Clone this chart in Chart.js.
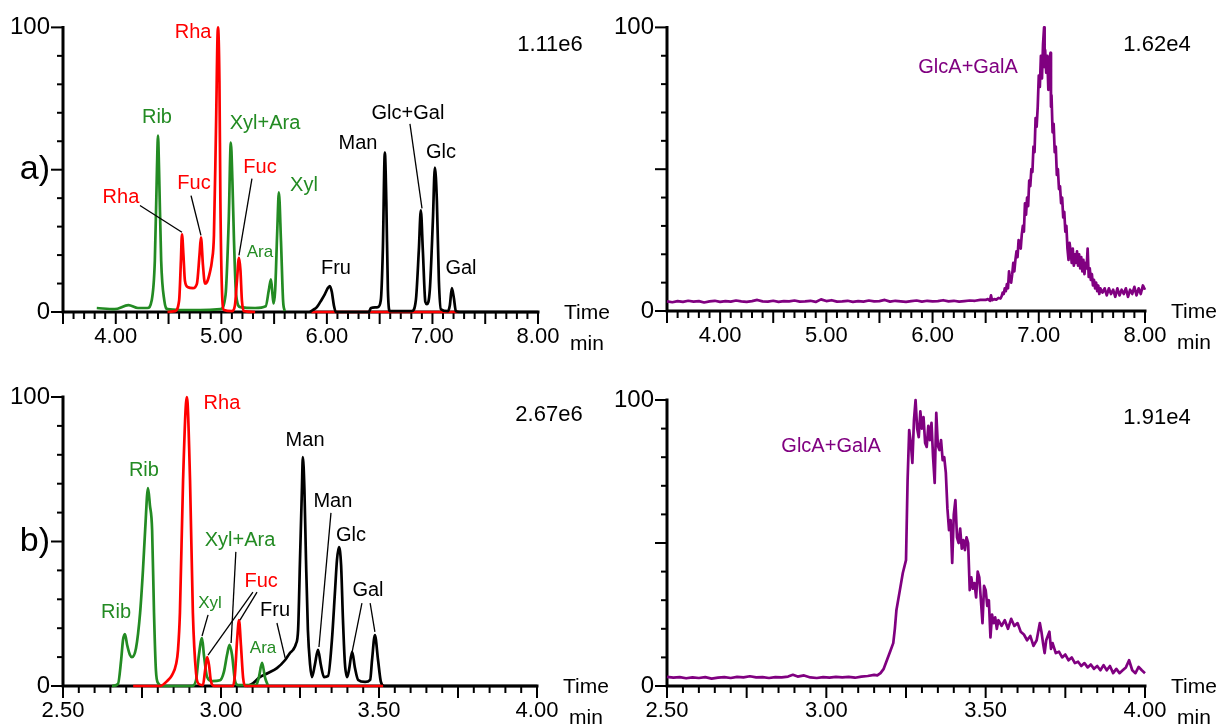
<!DOCTYPE html>
<html>
<head>
<meta charset="utf-8">
<title>Monosaccharide chromatograms</title>
<script src="https://cdn.jsdelivr.net/npm/chart.js@4.4.0/dist/chart.umd.min.js"></script>
<style>
  html, body { margin: 0; padding: 0; background: #fff; }
  #wrap { position: relative; width: 1220px; height: 724px; overflow: hidden; }
  canvas { position: absolute; }
</style>
</head>
<body>
<div id="wrap">
  <canvas id="aLeft" width="620" height="362" style="left:0;top:0"></canvas>
  <canvas id="aRight" width="620" height="362" style="left:600px;top:0"></canvas>
  <canvas id="bLeft" width="620" height="362" style="left:0;top:362px"></canvas>
  <canvas id="bRight" width="620" height="362" style="left:600px;top:362px"></canvas>
</div>
<script>
// ---- data: [time (min), relative intensity (%)] ----

// a) neutral sugars
const aGreen = [[3.82,1.4],[3.99,1.0],[4.12,2.4],[4.21,1.4],[4.30,1.4],[4.34,4],[4.37,18],[4.39,50],[4.40,62],[4.41,50],[4.43,18],[4.46,4],[4.49,1],[4.61,0.7],[4.80,0.7],[4.99,1],[5.04,6],[5.07,32],[5.09,59.5],[5.105,46],[5.12,25],[5.14,6],[5.18,1.7],[5.32,1.4],[5.42,2],[5.45,7.7],[5.47,11.5],[5.485,6],[5.495,3],[5.51,7.7],[5.53,28.7],[5.545,42],[5.565,25],[5.585,4],[5.60,0.3]];
const aRed = [[4.49,0],[4.56,0.3],[4.60,4],[4.617,18],[4.627,27.3],[4.641,20],[4.655,11],[4.684,8.7],[4.731,8.4],[4.769,10],[4.793,20],[4.807,26.2],[4.826,16.4],[4.845,10],[4.864,10.5],[4.892,14],[4.911,18],[4.93,27],[4.949,63.6],[4.968,100],[4.982,81],[4.991,39],[5.006,7.7],[5.025,0.7],[5.10,0.3],[5.129,2.4],[5.148,11],[5.167,19],[5.181,14.7],[5.195,4],[5.214,0.3],[5.32,0]];
const aRedBase = [[5.85,0],[7.25,0]];
const aBlack = [[5.839,0],[5.867,0.7],[5.905,1.7],[5.953,4.5],[5.981,6.3],[6.009,8.4],[6.028,9.1],[6.047,7],[6.066,2.4],[6.085,0],[6.398,0],[6.417,1.4],[6.483,1.7],[6.511,4.2],[6.53,21.7],[6.549,56],[6.563,39],[6.578,7.7],[6.597,0.3],[6.805,0.3],[6.843,4.2],[6.871,21.7],[6.89,35.7],[6.909,21.7],[6.933,3.5],[6.947,2.8],[6.975,7.7],[7.004,32],[7.023,50.7],[7.042,39],[7.061,11],[7.08,1],[7.146,0.3],[7.165,2.4],[7.184,8.4],[7.203,4.9],[7.222,0.3],[7.26,0],[8.0,0]];
// a) uronic acids
const aPurple = [[3.50,3.4],[3.55,3.1],[3.60,3.5],[3.65,3.2],[3.70,3.6],[3.75,3.3],[3.80,3.5],[3.85,3.0],[3.90,3.4],[3.95,3.6],[4.00,3.2],[4.05,3.5],[4.10,3.3],[4.15,3.7],[4.20,3.4],[4.25,3.2],[4.30,3.5],[4.35,3.9],[4.40,3.4],[4.45,3.3],[4.50,3.6],[4.55,3.2],[4.60,3.5],[4.65,3.4],[4.70,3.7],[4.75,3.3],[4.80,3.4],[4.85,3.6],[4.90,3.2],[4.95,4.1],[5.00,3.5],[5.05,3.8],[5.10,3.3],[5.15,3.4],[5.20,3.6],[5.25,3.2],[5.30,3.5],[5.35,3.3],[5.40,3.7],[5.45,3.4],[5.50,3.5],[5.55,3.9],[5.60,3.3],[5.65,3.6],[5.70,3.4],[5.75,3.2],[5.80,3.5],[5.85,3.7],[5.90,3.3],[5.95,3.6],[6.00,3.4],[6.05,3.5],[6.10,3.8],[6.15,3.4],[6.20,3.6],[6.25,3.3],[6.30,3.5],[6.35,3.7],[6.40,3.6],[6.45,3.9],
  [6.50,3.9],[6.52,4.2],[6.54,3.6],[6.55,5.5],[6.56,3.8],[6.58,4.2],[6.60,4.0],[6.62,4.6],[6.64,4.4],[6.65,5.2],[6.66,6.5],[6.67,6.0],[6.68,8.0],[6.69,7.0],[6.70,9.5],[6.71,8.0],[6.72,14],[6.73,11],[6.74,10],[6.75,13],[6.76,17],[6.77,14],[6.78,18],[6.79,21],[6.80,19],[6.81,25],[6.82,23],[6.83,22],[6.84,27],[6.85,30],[6.86,28],[6.87,38],[6.88,34],[6.89,40],[6.90,37],[6.91,46],[6.92,44],[6.93,50],[6.94,49],[6.95,58],[6.96,56],[6.97,68],[6.98,65],[6.99,72],[7.00,83],[7.01,79],[7.02,90],[7.03,82],[7.04,94],[7.05,100],[7.055,86],[7.06,92],[7.07,84],[7.08,90],[7.09,78],[7.10,88],[7.11,91],[7.115,72],[7.12,76],[7.13,63],[7.14,66],[7.15,56],[7.16,58],[7.17,48],[7.18,50],[7.19,43],[7.20,44],[7.21,38],[7.22,40],[7.23,33],[7.24,35],[7.25,28],[7.26,30],[7.27,22],[7.28,18],[7.29,24],[7.30,21],[7.31,17],[7.32,22],[7.33,16],[7.34,20],[7.35,17],[7.36,21],[7.37,16],[7.38,20],[7.39,15],[7.40,19],[7.41,14],[7.42,18],[7.43,13],[7.44,17],[7.45,15],[7.46,22],[7.47,12],[7.48,15],[7.49,11],[7.50,13],[7.51,9],[7.52,11],[7.53,8],[7.54,10],[7.55,7],[7.56,9],[7.57,6],[7.58,8],[7.60,6.5],[7.62,8],[7.64,5.5],[7.66,8],[7.68,6],[7.70,7.5],[7.72,5],[7.74,8],[7.76,5.5],[7.78,7.5],[7.80,6],[7.82,8],[7.84,5],[7.86,7.5],[7.88,6],[7.90,8.5],[7.92,5.5],[7.94,8],[7.96,6],[7.98,9],[8.00,7.5]];

// b) neutral sugars
const bGreen = [[2.655,0],[2.674,0.7],[2.684,9],[2.690,16],[2.696,18],[2.703,14.2],[2.712,10.7],[2.718,10],[2.731,13.1],[2.744,25.3],[2.753,40],[2.760,54],[2.769,68.5],[2.775,62.6],[2.782,54],[2.788,25.3],[2.794,5.5],[2.801,1],[2.813,0],[2.908,0],[2.921,2],[2.930,10.7],[2.940,16.6],[2.946,10.7],[2.956,3.1],[2.972,1.7],[2.997,2],[3.009,4.8],[3.019,10.7],[3.027,14.2],[3.035,10.7],[3.044,2],[3.054,0.3],[3.111,0.3],[3.120,3.1],[3.130,8],[3.139,3.1],[3.149,0]];
const bRed = [[2.722,0],[2.807,0],[2.832,2],[2.845,3.8],[2.858,7.6],[2.864,12.5],[2.870,25.3],[2.880,71.3],[2.892,100],[2.902,71.3],[2.911,25.3],[2.921,4.5],[2.930,0.7],[2.943,0.3],[2.949,4.8],[2.956,10],[2.962,7.3],[2.968,1.7],[2.978,0],[3.038,0],[3.044,3.8],[3.051,16],[3.057,22.8],[3.063,14.2],[3.070,2.8],[3.076,0],[3.513,0]];
const bBlack = [[3.082,0],[3.098,0.7],[3.123,3.1],[3.149,4.5],[3.177,6.2],[3.203,9],[3.218,11.4],[3.228,12.5],[3.237,14.5],[3.244,19.4],[3.250,43.6],[3.256,67.8],[3.259,79.2],[3.264,67.8],[3.269,43.6],[3.275,19.4],[3.282,7.3],[3.288,3.1],[3.297,7.3],[3.307,12.5],[3.316,7.3],[3.326,3.1],[3.339,3.5],[3.351,15.9],[3.361,33.2],[3.367,43.6],[3.373,48.1],[3.380,41.9],[3.386,22.8],[3.392,8],[3.399,3.1],[3.405,5.5],[3.415,11.8],[3.424,6.2],[3.434,2.1],[3.456,1.4],[3.472,2.1],[3.478,9],[3.487,17.6],[3.497,9],[3.506,1.4],[3.516,0],[4.0,0]];
// b) uronic acids
const bPurple = [[2.50,3.2],[2.52,2.9],[2.54,3.1],[2.56,2.7],[2.58,3.0],[2.60,2.8],[2.62,3.1],[2.64,2.6],[2.66,2.9],[2.68,3.1],[2.70,2.8],[2.72,3.2],[2.74,3.0],[2.76,3.4],[2.78,3.0],[2.80,3.1],[2.82,2.8],[2.84,3.1],[2.86,3.0],[2.88,3.3],[2.895,3.9],[2.91,3.3],[2.93,3.7],[2.95,3.0],[2.97,2.8],[2.99,3.1],[3.01,2.9],[3.03,3.2],[3.05,3.0],[3.07,3.2],[3.09,2.9],[3.11,3.3],[3.13,3.5],[3.15,3.9],[3.16,3.7],
  [3.17,4.5],[3.18,6],[3.19,9],[3.20,12],[3.21,15],[3.215,20],[3.22,26.6],[3.23,33],[3.24,39.5],[3.25,44],[3.255,72],[3.26,89.5],[3.265,85],[3.27,78],[3.275,93],[3.28,100],[3.285,90],[3.29,87],[3.295,96],[3.30,90],[3.305,94],[3.31,85],[3.315,83.6],[3.32,91],[3.325,86],[3.33,92],[3.335,80],[3.34,71],[3.345,95.5],[3.35,84],[3.355,82.5],[3.36,86],[3.365,79],[3.37,80],[3.375,74.5],[3.38,62],[3.385,54.5],[3.39,58],[3.395,43],[3.40,60],[3.405,65],[3.41,52],[3.415,50],[3.42,55],[3.425,48],[3.43,51],[3.435,47.5],[3.44,52],[3.445,50],[3.45,33.5],[3.455,38],[3.46,34],[3.465,36],[3.47,31],[3.475,40],[3.48,38],[3.485,30],[3.49,22],[3.495,35],[3.50,33.5],[3.505,28],[3.51,30],[3.515,17],[3.52,25],[3.525,22],[3.53,24],[3.535,20],[3.54,23],[3.55,21],[3.56,23],[3.57,20],[3.58,23.5],[3.59,21],[3.60,22],[3.61,19],[3.62,18],[3.63,16],[3.64,17.5],[3.65,14],[3.66,16],[3.67,22],[3.675,19],[3.68,15],[3.685,11.5],[3.69,16],[3.70,19],[3.705,13],[3.71,15],[3.72,11.5],[3.73,12],[3.74,10],[3.75,11],[3.76,9],[3.77,10],[3.78,8],[3.79,8.5],[3.80,7],[3.81,8],[3.82,6.5],[3.83,7.5],[3.84,6],[3.85,7],[3.86,5.5],[3.87,7.3],[3.88,5.5],[3.89,7],[3.90,4.5],[3.91,6],[3.92,4.5],[3.93,5.5],[3.94,6.5],[3.95,9],[3.96,5.5],[3.97,4.5],[3.98,6.7],[3.99,5.5],[4.00,4.5]];

// base peak intensities
const aScaleLeft = '1.11e6', aScaleRight = '1.62e4';
const bScaleLeft = '2.67e6', bScaleRight = '1.91e4';

// ---- look ----
const GREEN = '#238b23';
const RED = '#ff0000';
const PURPLE = '#800080';
const BLACK = '#000000';
const FONT = "'Liberation Sans', Arial, sans-serif";

function trace(points, color, order, smooth) {
  return {
    data: points.map(p => ({ x: p[0], y: p[1] })),
    borderColor: color,
    borderWidth: 2.7,
    borderJoinStyle: 'round',
    pointRadius: 0,
    fill: false,
    tension: 0,
    cubicInterpolationMode: smooth ? 'monotone' : 'default',
    order: order,
    clip: false
  };
}

// axes, ticks, peak names and leader lines (placed in data coordinates)
function decor(spec) {
  return {
    id: 'decor',
    beforeDatasetsDraw(chart) {
      const { ctx, chartArea: area, scales } = chart;
      const xs = scales.x, ys = scales.y;
      ctx.save();
      ctx.strokeStyle = BLACK;
      ctx.lineWidth = 2;
      ys.ticks.forEach(tk => {
        const y = ys.getPixelForValue(tk.value);
        const len = tk.value % 50 === 0 ? 12 : 6;
        ctx.beginPath(); ctx.moveTo(area.left - len, y); ctx.lineTo(area.left, y); ctx.stroke();
      });
      xs.ticks.forEach((tk, i) => {
        const x = xs.getPixelForValue(tk.value);
        const len = i % 5 === 0 ? 12 : 7;
        ctx.beginPath(); ctx.moveTo(x, area.bottom); ctx.lineTo(x, area.bottom + len); ctx.stroke();
      });
      ctx.lineWidth = 3;
      ctx.lineCap = 'square';
      ctx.beginPath();
      ctx.moveTo(area.left, area.top);
      ctx.lineTo(area.left, area.bottom);
      ctx.lineTo(area.right, area.bottom);
      ctx.stroke();
      ctx.restore();
    },
    afterDraw(chart) {
      const { ctx, chartArea: area, scales } = chart;
      const xs = scales.x, ys = scales.y;
      ctx.save();
      ctx.fillStyle = BLACK;
      ctx.textBaseline = 'middle';
      ctx.textAlign = 'left';
      ctx.font = '21px ' + FONT;
      ctx.fillText('Time', area.right + 26, area.bottom + 1);
      ctx.fillText('min', area.right + 32, area.bottom + 32);
      ctx.textAlign = 'center';
      ctx.font = '22px ' + FONT;
      ctx.fillText(spec.scaleText, area.right + 12, area.top + 18);

      ctx.strokeStyle = BLACK;
      ctx.lineWidth = 1.3;
      (spec.leaders || []).forEach(l => {
        ctx.beginPath();
        ctx.moveTo(xs.getPixelForValue(l[0]), ys.getPixelForValue(l[1]));
        ctx.lineTo(xs.getPixelForValue(l[2]), ys.getPixelForValue(l[3]));
        ctx.stroke();
      });
      (spec.labels || []).forEach(l => {
        ctx.font = (l.small ? 17 : 20) + 'px ' + FONT;
        ctx.fillStyle = l.color;
        ctx.fillText(l.text, xs.getPixelForValue(l.t), ys.getPixelForValue(l.v));
      });
      ctx.restore();
    }
  };
}

function makeChart(id, spec) {
  const xLabel = spec.labelEvery === 1
    ? v => (Math.abs(v - Math.round(v)) < 1e-6 ? Number(v).toFixed(2) : '')
    : v => (Math.abs(v * 2 - Math.round(v * 2)) < 1e-6 ? Number(v).toFixed(2) : '');
  new Chart(document.getElementById(id), {
    type: 'line',
    data: { datasets: spec.datasets },
    options: {
      responsive: false,
      animation: false,
      events: [],
      layout: { padding: spec.pad },
      plugins: { legend: { display: false }, tooltip: { enabled: false } },
      scales: {
        x: {
          type: 'linear',
          min: spec.xMin,
          max: spec.xMax,
          afterFit: s => { s.height = spec.xh; },
          grid: { display: false, drawTicks: false },
          border: { display: false },
          ticks: {
            stepSize: spec.step,
            autoSkip: false,
            maxRotation: 0,
            minRotation: 0,
            padding: 12,
            color: BLACK,
            font: { family: FONT, size: 22 },
            callback: xLabel
          }
        },
        y: {
          min: 0,
          max: 100,
          afterFit: s => { s.width = spec.yw; },
          grid: { display: false, drawTicks: false },
          border: { display: false },
          ticks: {
            stepSize: 10,
            autoSkip: false,
            padding: 13,
            color: BLACK,
            font: c => ({ family: FONT, size: c.tick && c.tick.value === 50 ? 34 : 24 }),
            callback: v => (v === 100 ? '100' : v === 0 ? '0' : (v === 50 && spec.panel) ? spec.panel : '')
          }
        }
      }
    },
    plugins: [decor(spec)]
  });
}

makeChart('aLeft', {
  panel: 'a)', scaleText: aScaleLeft,
  xMin: 3.5, xMax: 8.0, step: 0.1, labelEvery: 1,
  pad: { left: 0, right: 82, top: 26, bottom: 0 }, yw: 63, xh: 50,
  datasets: [
    trace(aRedBase, RED, 4, false),
    trace(aBlack, BLACK, 3, true),
    trace(aGreen, GREEN, 2, true),
    trace(aRed, RED, 1, true)
  ],
  labels: [
    { text: 'Rha', t: 4.732, v: 98.3, color: RED },
    { text: 'Rib', t: 4.390, v: 68.2, color: GREEN },
    { text: 'Xyl+Ara', t: 5.414, v: 66.1, color: GREEN },
    { text: 'Fuc', t: 5.366, v: 50.7, color: RED },
    { text: 'Fuc', t: 4.741, v: 45.1, color: RED },
    { text: 'Xyl', t: 5.783, v: 44.4, color: GREEN },
    { text: 'Rha', t: 4.049, v: 40.2, color: RED },
    { text: 'Ara', t: 5.366, v: 21.0, color: GREEN, small: true },
    { text: 'Glc+Gal', t: 6.768, v: 69.9, color: BLACK },
    { text: 'Man', t: 6.295, v: 59.1, color: BLACK },
    { text: 'Glc', t: 7.081, v: 55.9, color: BLACK },
    { text: 'Fru', t: 6.086, v: 15.4, color: BLACK },
    { text: 'Gal', t: 7.270, v: 15.4, color: BLACK }
  ],
  leaders: [[4.229, 37.4, 4.627, 28.0], [4.713, 40.9, 4.807, 26.9], [5.290, 46.9, 5.167, 19.9], [6.787, 66.1, 6.901, 36.4]]
});

makeChart('aRight', {
  panel: null, scaleText: aScaleRight,
  xMin: 3.5, xMax: 8.0, step: 0.1, labelEvery: 1,
  pad: { left: 0, right: 75, top: 25, bottom: 0 }, yw: 67, xh: 51,
  datasets: [trace(aPurple, PURPLE, 1, false)],
  labels: [{ text: 'GlcA+GalA', t: 6.334, v: 85.7, color: PURPLE }],
  leaders: []
});

makeChart('bLeft', {
  panel: 'b)', scaleText: bScaleLeft,
  xMin: 2.5, xMax: 4.0, step: 0.05, labelEvery: 0.5,
  pad: { left: 0, right: 83, top: 35, bottom: 0 }, yw: 63, xh: 38,
  datasets: [
    trace(bBlack, BLACK, 3, true),
    trace(bGreen, GREEN, 2, true),
    trace(bRed, RED, 1, true)
  ],
  labels: [
    { text: 'Rha', t: 3.003, v: 97.6, color: RED },
    { text: 'Rib', t: 2.756, v: 74.7, color: GREEN },
    { text: 'Xyl+Ara', t: 3.060, v: 50.5, color: GREEN },
    { text: 'Fuc', t: 3.127, v: 36.0, color: RED },
    { text: 'Xyl', t: 2.965, v: 28.7, color: GREEN, small: true },
    { text: 'Rib', t: 2.668, v: 25.3, color: GREEN },
    { text: 'Fru', t: 3.171, v: 26.3, color: BLACK },
    { text: 'Ara', t: 3.133, v: 13.1, color: GREEN, small: true },
    { text: 'Man', t: 3.266, v: 84.8, color: BLACK },
    { text: 'Man', t: 3.354, v: 64.0, color: BLACK },
    { text: 'Glc', t: 3.411, v: 52.2, color: BLACK },
    { text: 'Gal', t: 3.465, v: 32.9, color: BLACK }
  ],
  leaders: [[2.959, 24.6, 2.940, 17.3], [3.101, 32.5, 2.959, 10.7], [3.114, 32.5, 3.060, 22.8], [3.047, 46.4, 3.032, 14.9], [3.177, 21.8, 3.203, 9.7], [3.348, 59.9, 3.310, 13.5], [3.446, 28.7, 3.415, 11.8], [3.472, 28.7, 3.487, 18.7]]
});

makeChart('bRight', {
  panel: null, scaleText: bScaleRight,
  xMin: 2.5, xMax: 4.0, step: 0.05, labelEvery: 0.5,
  pad: { left: 0, right: 75, top: 38, bottom: 0 }, yw: 67, xh: 38,
  datasets: [trace(bPurple, PURPLE, 1, false)],
  labels: [{ text: 'GlcA+GalA', t: 3.015, v: 83.6, color: PURPLE }],
  leaders: []
});
</script>
</body>
</html>
